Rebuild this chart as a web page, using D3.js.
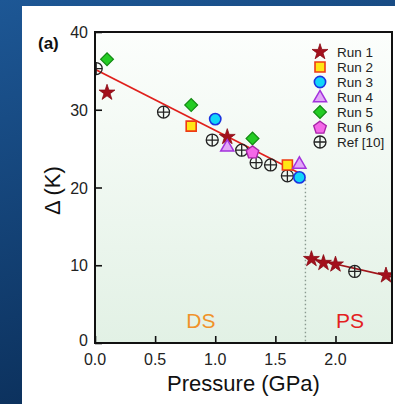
<!DOCTYPE html>
<html>
<head>
<meta charset="utf-8">
<script src="https://cdn.jsdelivr.net/npm/d3@7"></script>
<style>
  html, body { margin: 0; padding: 0; background: #123f74; }
  svg { display: block; }
  text { font-family: "Liberation Sans", Arial, sans-serif; }
</style>
</head>
<body>
<svg id="chart" width="395" height="404"></svg>
<script>
// Superconducting gap Δ versus pressure, runs 1–6 plus reference data
const run1 = [[0.10, 32.2], [1.10, 26.5], [1.80, 10.8], [1.90, 10.3], [2.00, 10.1], [2.42, 8.7]];
const run2 = [[0.80, 27.9], [1.60, 22.9]];
const run3 = [[1.00, 28.8], [1.70, 21.3]];
const run4 = [[1.10, 25.3], [1.70, 23.1]];
const run5 = [[0.10, 36.5], [0.80, 30.6], [1.31, 26.3]];
const run6 = [[1.31, 24.6]];
const ref10 = [[0.01, 35.3], [0.57, 29.7], [0.975, 26.1], [1.22, 24.8], [1.34, 23.2],
               [1.46, 22.9], [1.60, 21.5], [2.16, 9.2]];
const fitDS = [[0.0, 35.2], [1.73, 21.6]];
const fitPS = [[1.76, 11.0], [2.47, 8.5]];
const boundaryP = 1.75;
const xTicks = [0.0, 0.5, 1.0, 1.5, 2.0];
const yTicks = [0, 10, 20, 30, 40];
const legendLabels = ["Run 1", "Run 2", "Run 3", "Run 4", "Run 5", "Run 6", "Ref [10]"];

const svg = d3.select("#chart");
const W = 395, H = 404;
const m = { left: 95, top: 32, right: 392, bottom: 343 };

const x = d3.scaleLinear().domain([0, 2.47]).range([m.left, m.right]);
const y = d3.scaleLinear().domain([0, 40]).range([m.bottom, m.top]);

const defs = svg.append("defs");
const bg = defs.append("linearGradient").attr("id", "bgBlue")
  .attr("x1", 0).attr("y1", 0).attr("x2", 0.3).attr("y2", 1);
bg.append("stop").attr("offset", 0).attr("stop-color", "#1d5795");
bg.append("stop").attr("offset", 1).attr("stop-color", "#0b2f5a");
const pg = defs.append("linearGradient").attr("id", "plotBg")
  .attr("x1", 0).attr("y1", 0).attr("x2", 0).attr("y2", 1);
pg.append("stop").attr("offset", 0).attr("stop-color", "#fcfefc");
pg.append("stop").attr("offset", 1).attr("stop-color", "#e2f1e5");
defs.append("clipPath").attr("id", "plotClip").append("rect")
  .attr("x", m.left).attr("y", m.top)
  .attr("width", m.right - m.left).attr("height", m.bottom - m.top);

// backdrop and white panel
svg.append("rect").attr("width", W).attr("height", H).attr("fill", "url(#bgBlue)");
svg.append("rect").attr("x", 22).attr("y", 6).attr("width", W - 22).attr("height", H - 6)
  .attr("fill", "#ffffff");

// plot area
svg.append("rect").attr("x", m.left).attr("y", m.top)
  .attr("width", m.right - m.left).attr("height", m.bottom - m.top)
  .attr("fill", "url(#plotBg)");

const plot = svg.append("g").attr("clip-path", "url(#plotClip)");

// phase boundary
plot.append("line")
  .attr("x1", x(boundaryP)).attr("x2", x(boundaryP))
  .attr("y1", y(21)).attr("y2", y(0))
  .attr("stroke", "#8a9a90").attr("stroke-width", 1.4).attr("stroke-dasharray", "1.5,2.5");

// fits
const line = d3.line().x(d => x(d[0])).y(d => y(d[1]));
plot.append("path").datum(fitDS).attr("d", line)
  .attr("fill", "none").attr("stroke", "#e0201c").attr("stroke-width", 1.6);
plot.append("path").datum(fitPS).attr("d", line)
  .attr("fill", "none").attr("stroke", "#a0141a").attr("stroke-width", 1.6);

// marker definitions
function pentagon(r) {
  const pts = d3.range(5).map(i => {
    const a = -Math.PI / 2 + i * 2 * Math.PI / 5;
    return [r * Math.cos(a), r * Math.sin(a) + 0.8];
  });
  return d3.line()(pts) + "Z";
}
function refMark(g) {
  g.append("circle").attr("r", 6).attr("fill", "none").attr("stroke", "#222").attr("stroke-width", 1.3);
  g.append("path").attr("d", "M-6,0H6M0,-6V6").attr("stroke", "#222").attr("stroke-width", 1.3);
}
const styles = [
  { d: d3.symbol(d3.symbolStar, 78)(), fill: "#a3101c", stroke: "#8a0a14", sw: 0.8 },
  { d: d3.symbol(d3.symbolSquare, 100)(), fill: "#ffe614", stroke: "#ee3a14", sw: 1.6 },
  { d: d3.symbol(d3.symbolCircle, 100)(), fill: "#12d6f8", stroke: "#1a34e0", sw: 1.6 },
  { d: d3.symbol(d3.symbolTriangle, 75)(), fill: "#e2a6f8", stroke: "#a332dc", sw: 1.5, dy: 1 },
  { d: d3.symbol(d3.symbolSquare, 82)(), fill: "#24cc24", stroke: "#128a12", sw: 1.2, rot: 45 },
  { d: pentagon(6.6), fill: "#f468e8", stroke: "#a824a8", sw: 1.4 },
  { ref: true }
];
const seriesData = [run1, run2, run3, run4, run5, run6, ref10];

function drawMarker(g, s) {
  if (s.ref) { refMark(g); return; }
  g.append("path").attr("d", s.d)
    .attr("transform", `translate(0,${s.dy || 0}) rotate(${s.rot || 0})`)
    .attr("fill", s.fill).attr("stroke", s.stroke).attr("stroke-width", s.sw);
}

// reference points first, then runs
const order = [6, 0, 1, 2, 3, 4, 5];
order.forEach(i => {
  plot.append("g").selectAll("g").data(seriesData[i]).join("g")
    .attr("transform", d => `translate(${x(d[0])},${y(d[1])})`)
    .each(function () { drawMarker(d3.select(this), styles[i]); });
});

// phase labels
svg.append("text").attr("x", x(0.88)).attr("y", y(1.95)).attr("text-anchor", "middle")
  .attr("font-size", 21).attr("fill", "#f0922a").text("DS");
svg.append("text").attr("x", x(2.12)).attr("y", y(1.95)).attr("text-anchor", "middle")
  .attr("font-size", 21).attr("fill", "#e3211e").text("PS");

// axes with inward ticks
const axL = svg.append("g").attr("transform", `translate(${m.left},0)`);
axL.call(d3.axisLeft(y).tickValues(d3.range(0, 41, 2)).tickSize(-4).tickFormat(""));
axL.call(d3.axisLeft(y).tickValues(yTicks).tickSize(-7).tickFormat(""));
axL.selectAll(".domain").remove();
axL.selectAll("line").attr("stroke", "#111").attr("stroke-width", 1.6);

const axB = svg.append("g").attr("transform", `translate(0,${m.bottom})`);
axB.call(d3.axisBottom(x).tickValues(d3.range(0, 2.41, 0.1)).tickSize(-4).tickFormat(""));
axB.call(d3.axisBottom(x).tickValues(xTicks).tickSize(-7).tickFormat(""));
axB.selectAll(".domain").remove();
axB.selectAll("line").attr("stroke", "#111").attr("stroke-width", 1.6);

// tick labels
svg.append("g").selectAll("text").data(yTicks).join("text")
  .attr("x", m.left - 7).attr("y", d => y(d) + 6 - (d === 0 ? 3 : 0))
  .attr("text-anchor", "end").attr("font-size", 16).attr("fill", "#222")
  .text(d => d);
svg.append("g").selectAll("text").data(xTicks).join("text")
  .attr("x", d => x(d)).attr("y", m.bottom + 22)
  .attr("text-anchor", "middle").attr("font-size", 16).attr("fill", "#222")
  .text(d => d3.format(".1f")(d));

// frame
svg.append("rect").attr("x", m.left).attr("y", m.top)
  .attr("width", m.right - m.left).attr("height", m.bottom - m.top)
  .attr("fill", "none").attr("stroke", "#111").attr("stroke-width", 2);

// axis titles
svg.append("text").attr("x", (m.left + m.right) / 2).attr("y", 391)
  .attr("text-anchor", "middle").attr("font-size", 22).attr("fill", "#111")
  .text("Pressure (GPa)");
svg.append("text").attr("transform", `translate(60,${y(19.6)}) rotate(-90)`)
  .attr("text-anchor", "middle").attr("font-size", 22).attr("fill", "#111")
  .text("Δ (K)");

svg.append("text").attr("x", 38).attr("y", 49).attr("font-size", 17)
  .attr("font-weight", "bold").attr("fill", "#111").text("(a)");

// legend
const leg = svg.append("g").attr("transform", "translate(320,52)");
legendLabels.forEach((lab, i) => {
  const row = leg.append("g").attr("transform", `translate(0,${i * 15})`);
  drawMarker(row, styles[i]);
  row.append("text").attr("x", 17).attr("y", 5).attr("font-size", 13.5)
    .attr("fill", "#222").text(lab);
});
</script>
</body>
</html>
